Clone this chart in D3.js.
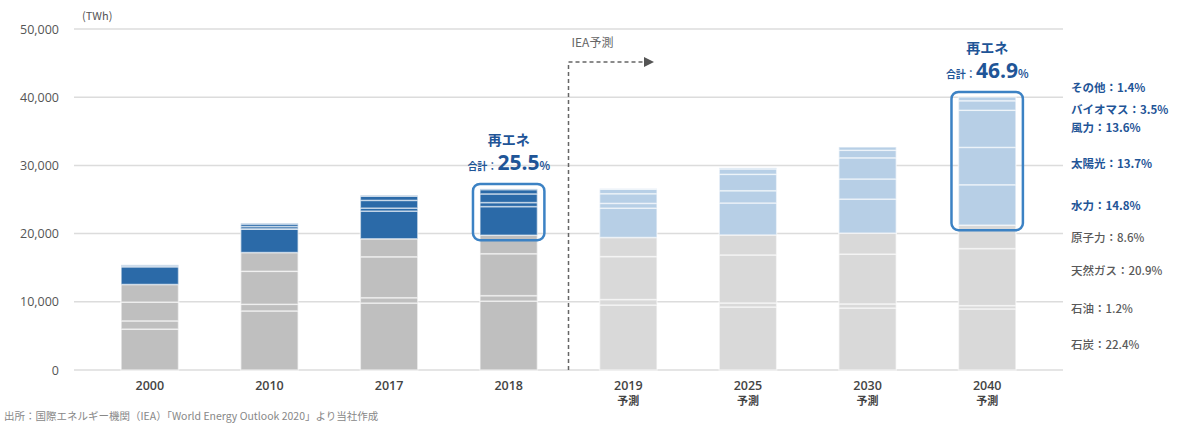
<!DOCTYPE html>
<html>
<head>
<meta charset="utf-8">
<script src="https://cdn.jsdelivr.net/npm/d3@7"></script>
<style>
  body { margin: 0; background: #fff; }
  text { font-family: "Noto Sans CJK JP", "Noto Sans", sans-serif; }
</style>
</head>
<body>
<div id="chart"></div>
<script>
// years and whether they are IEA forecasts
var years = ["2000", "2010", "2017", "2018", "2019", "2025", "2030", "2040"];
var forecast = [false, false, false, false, true, true, true, true];

// sources, stacked bottom -> top
var sources = ["石炭", "石油", "天然ガス", "原子力", "水力", "太陽光", "風力", "バイオマス", "その他"];
var renewable = [false, false, false, false, true, true, true, true, true];

// TWh per year
var coal    = [5994, 8660, 9820, 10100, 9530, 9240, 9090, 8960];
var oil     = [1207,  970,  780,   800,  800,  590,  600,  480];
var gas     = [2750, 4840, 6000,  6150, 6300, 7040, 7300, 8360];
var nuclear = [2591, 2756, 2640,  2710, 2800, 2930, 3080, 3440];
var hydro   = [2617, 3440, 4060,  4200, 4300, 4690, 4990, 5920];
var solar   = [   1,   32,  440,   590,  700, 1800, 2950, 5480];
var wind    = [  31,  340, 1130,  1270, 1420, 2400, 3100, 5440];
var biomass = [ 164,  370,  620,   640,  650,  800, 1100, 1400];
var other   = [  52,   68,   90,    90,   90,  150,  490,  560];
var series = [coal, oil, gas, nuclear, hydro, solar, wind, biomass, other];

var yTicks = [0, 10000, 20000, 30000, 40000, 50000];

// 2040 share labels on the right
var legendLabels = ["その他：1.4%", "バイオマス：3.5%", "風力：13.6%", "太陽光：13.7%", "水力：14.8%",
                    "原子力：8.6%", "天然ガス：20.9%", "石油：1.2%", "石炭：22.4%"];
var legendY = [88, 110, 128, 164, 206, 238, 271, 309, 345];
var legendBlue = [true, true, true, true, true, false, false, false, false];

// renewable total callouts
var calloutYears = ["2018", "2040"];
var calloutPct = ["25.5", "46.9"];

var W = 1182, H = 424;
var margin = {top: 29, bottom: 54, left: 90, right: 135};

var svg = d3.select("#chart").append("svg")
    .attr("width", W)
    .attr("height", H);

var x = d3.scaleBand().domain(years).range([margin.left, W - margin.right]).paddingInner(0.52).paddingOuter(0.26);
var y = d3.scaleLinear().domain([0, 50000]).range([H - margin.bottom, margin.top]);

// gridlines
svg.append("g").selectAll("line")
    .data(yTicks)
    .enter().append("line")
        .attr("x1", 74)
        .attr("x2", 1063)
        .attr("y1", d => y(d))
        .attr("y2", d => y(d))
        .style("stroke", "#dcdcdc")
        .style("stroke-width", "1.5px");

var yAxis = svg.append("g")
    .attr("transform", "translate(62,0)")
    .call(d3.axisLeft(y).tickValues(yTicks).tickSize(0).tickFormat(d3.format(",")));
yAxis.select(".domain").remove();
yAxis.selectAll("text")
    .attr("font-size", "12.5px")
    .attr("fill", "#555")
    .style("font-family", "'Open Sans', sans-serif");

svg.append("text")
    .attr("x", 82)
    .attr("y", 20)
    .attr("font-size", "11px")
    .attr("fill", "#555")
    .text("(TWh)");

// stack
var table = years.map(function(yr, i) {
    var row = {year: yr, fc: forecast[i]};
    sources.forEach(function(s, j) { row[s] = series[j][i]; });
    return row;
});
var stacked = d3.stack().keys(sources)(table);

function fillFor(k, d) {
    if (renewable[k]) return d.data.fc ? "#b7cfe6" : "#2b6aa8";
    return d.data.fc ? "#d9d9d9" : "#bfbfbf";
}

stacked.forEach(function(layer, k) {
    svg.append("g").selectAll("rect")
        .data(layer)
        .enter().append("rect")
            .attr("x", d => x(d.data.year))
            .attr("width", x.bandwidth())
            .attr("y", d => y(d[1]))
            .attr("height", d => y(d[0]) - y(d[1]))
            .attr("fill", d => fillFor(k, d))
            .style("stroke", "#fff")
            .style("stroke-opacity", 0.55)
            .style("stroke-width", "1.5px");
});

// highlight boxes round the renewable part
calloutYears.forEach(function(yr, i) {
    var idx = years.indexOf(yr);
    var lo = stacked[3][idx][1], hi = stacked[8][idx][1];
    svg.append("rect")
        .attr("x", x(yr) - 7)
        .attr("width", x.bandwidth() + 14)
        .attr("y", y(hi) - 5)
        .attr("height", y(lo) - y(hi) + 10)
        .attr("rx", 7)
        .attr("fill", "none")
        .style("stroke", "#3c82c4")
        .style("stroke-width", "2.5px");

    var cx = x(yr) + x.bandwidth() / 2;
    var ty = y(hi) - 44;
    svg.append("text")
        .attr("x", cx)
        .attr("y", ty)
        .attr("text-anchor", "middle")
        .attr("font-size", "14px")
        .attr("font-weight", "bold")
        .attr("fill", "#1f5597")
        .text("再エネ");
    var t = svg.append("text")
        .attr("x", cx)
        .attr("y", ty + 25)
        .attr("text-anchor", "middle")
        .attr("fill", "#1f5597")
        .attr("font-weight", "bold");
    t.append("tspan").attr("font-size", "10px").text("合計：");
    t.append("tspan").attr("font-size", "21px").style("font-family", "'Open Sans', sans-serif").text(calloutPct[i]);
    t.append("tspan").attr("font-size", "11px").text("%");
});

// IEA forecast divider
var divX = (x("2018") + x.bandwidth() + x("2019")) / 2;
svg.append("path")
    .attr("d", d3.line()([[divX, y(0)], [divX, 62], [645, 62]]))
    .attr("fill", "none")
    .style("stroke", "#666")
    .style("stroke-width", "1.5px")
    .style("stroke-dasharray", "4,3");
svg.append("path")
    .attr("d", d3.line()([[644, 57], [654, 62], [644, 67]]))
    .attr("fill", "#555");
svg.append("text")
    .attr("x", divX + 3)
    .attr("y", 47)
    .attr("font-size", "12px")
    .attr("fill", "#666")
    .text("IEA予測");

// x labels
var xl = svg.append("g").selectAll("g")
    .data(years)
    .enter().append("g");
xl.append("text")
    .attr("x", d => x(d) + x.bandwidth() / 2)
    .attr("y", 390)
    .attr("text-anchor", "middle")
    .attr("font-size", "12.5px")
    .attr("font-weight", "600")
    .attr("fill", "#444")
    .style("font-family", "'Open Sans', sans-serif")
    .text(d => d);
xl.filter((d, i) => forecast[i]).append("text")
    .attr("x", d => x(d) + x.bandwidth() / 2)
    .attr("y", 405)
    .attr("text-anchor", "middle")
    .attr("font-size", "11px")
    .attr("font-weight", "bold")
    .attr("fill", "#444")
    .text("予測");

// right side labels
svg.append("g").selectAll("text")
    .data(legendLabels)
    .enter().append("text")
        .attr("x", 1071)
        .attr("y", (d, i) => legendY[i] + 4)
        .attr("font-size", "11.5px")
        .attr("font-weight", (d, i) => legendBlue[i] ? "bold" : "500")
        .attr("fill", (d, i) => legendBlue[i] ? "#1f5597" : "#595959")
        .text(d => d);

svg.append("text")
    .attr("x", 4)
    .attr("y", 420)
    .attr("font-size", "10.5px")
    .attr("fill", "#888")
    .text("出所：国際エネルギー機関（IEA）「World Energy Outlook 2020」より当社作成");
</script>
</body>
</html>
